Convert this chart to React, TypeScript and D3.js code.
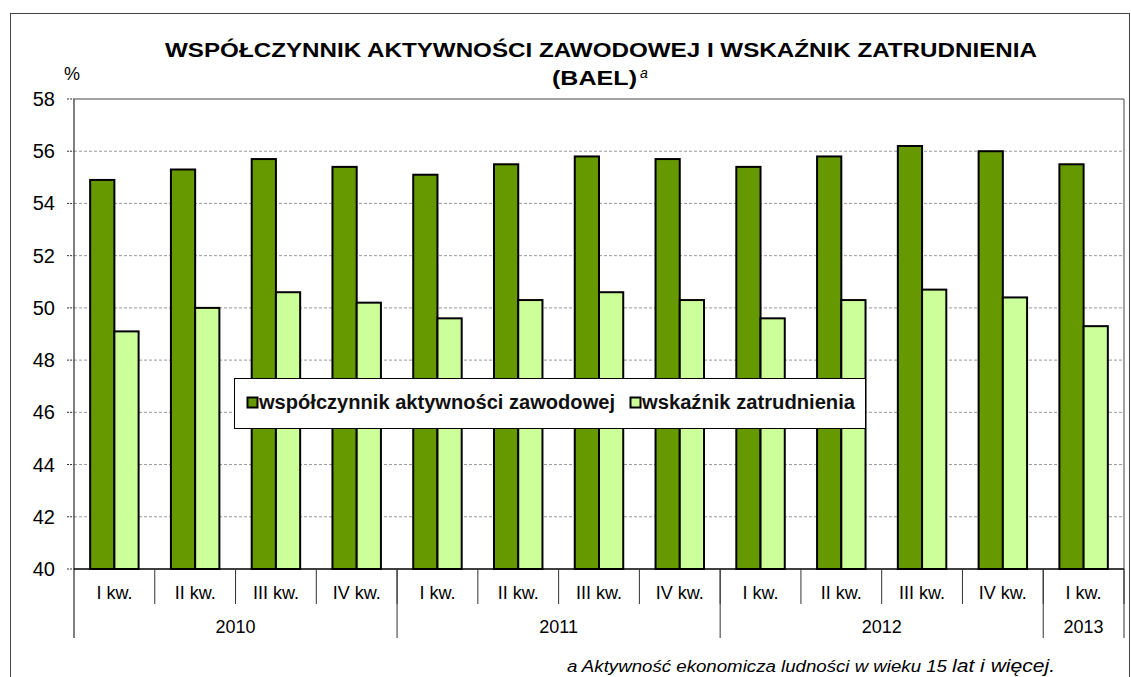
import * as d3 from "d3"

const quarters = ["I kw.", "II kw.", "III kw.", "IV kw.", "I kw.", "II kw.", "III kw.", "IV kw.", "I kw.", "II kw.", "III kw.", "IV kw.", "I kw."]
const years = [
    { label: "2010", from: 0, to: 4 },
    { label: "2011", from: 4, to: 8 },
    { label: "2012", from: 8, to: 12 },
    { label: "2013", from: 12, to: 13 },
]
const activity = [54.9, 55.3, 55.7, 55.4, 55.1, 55.5, 55.8, 55.7, 55.4, 55.8, 56.2, 56.0, 55.5]
const employment = [49.1, 50.0, 50.6, 50.2, 49.6, 50.3, 50.6, 50.3, 49.6, 50.3, 50.7, 50.4, 49.3]
const yTicks = [40, 42, 44, 46, 48, 50, 52, 54, 56, 58]

const W = 1131
const H = 677
const FONT = "Liberation Sans, Arial, sans-serif"
const DARK = "#669900"
const LIGHT = "#ccff99"

export default function App() {
    const left = 74, right = 1124, top = 99, bottom = 569
    const x = d3.scaleBand<number>().domain(d3.range(quarters.length)).range([left, right]).paddingInner(0.4).paddingOuter(0.2)
    const step = (right - left) / quarters.length
    const y = d3.scaleLinear().domain([40, 58]).range([bottom, top])
    const bw = x.bandwidth() / 2
    const edge = (i: number) => left + i * step

    return (
        <svg width={W} height={H} style={{ position: "absolute", left: 0, top: 0, fontFamily: FONT }}>
            <rect x={0} y={0} width={W} height={H} fill="#fff" />
            <rect x={10.5} y={13.5} width={1119} height={700} fill="none" stroke="#444" strokeWidth={1} />

            {/* title */}
            <text x={165} y={57} fontSize={21} fontWeight="bold" fill="#000" textLength={872} lengthAdjust="spacingAndGlyphs">
                WSPÓŁCZYNNIK AKTYWNOŚCI ZAWODOWEJ I WSKAŹNIK ZATRUDNIENIA
            </text>
            <text x={552} y={85} fontSize={21} fontWeight="bold" fill="#000" textLength={85} lengthAdjust="spacingAndGlyphs">(BAEL)</text>
            <text x={640} y={78} fontSize={14} fontStyle="italic" fill="#000">a</text>
            <text x={72} y={80} textAnchor="middle" fontSize={18}>%</text>

            {/* gridlines + y ticks */}
            {yTicks.map((t) => (
                <g key={t}>
                    {t > 40 && t < 58 && <line x1={left} x2={right} y1={y(t)} y2={y(t)} stroke="#999" strokeDasharray="3,2" />}
                    <line x1={left - 7} x2={left} y1={y(t)} y2={y(t)} stroke="#333" strokeDasharray="2,1" />
                    <text x={55} y={y(t) + 7} textAnchor="end" fontSize={20}>{t}</text>
                </g>
            ))}
            <line x1={right} x2={right} y1={top} y2={bottom} stroke="#444" />
            <line x1={left} x2={right} y1={top} y2={top} stroke="#444" />

            {/* bars */}
            {activity.map((v, i) => (
                <rect key={"a" + i} x={x(i)!} y={y(v)} width={bw} height={y(40) - y(v)} fill={DARK} stroke="#000" strokeWidth={2} />
            ))}
            {employment.map((v, i) => (
                <rect key={"e" + i} x={x(i)! + bw} y={y(v)} width={bw} height={y(40) - y(v)} fill={LIGHT} stroke="#000" strokeWidth={2} />
            ))}

            <line x1={left} x2={left} y1={top} y2={638} stroke="#555" strokeWidth={1.5} />
            <line x1={left} x2={right} y1={bottom} y2={bottom} stroke="#000" strokeWidth={1.5} />

            {/* quarter labels */}
            {quarters.map((q, i) => (
                <g key={"q" + i}>
                    <line x1={edge(i + 1)} x2={edge(i + 1)} y1={bottom} y2={604} stroke="#333" />
                    <text x={edge(i) + step / 2} y={599} textAnchor="middle" fontSize={18}>{q}</text>
                </g>
            ))}
            {years.map((yr) => (
                <g key={yr.label}>
                    <line x1={edge(yr.to)} x2={edge(yr.to)} y1={bottom} y2={638} stroke="#333" />
                    <text x={(edge(yr.from) + edge(yr.to)) / 2} y={633} textAnchor="middle" fontSize={18}>{yr.label}</text>
                </g>
            ))}

            {/* legend */}
            <rect x={234.5} y={378.5} width={631} height={50} fill="#fff" stroke="#000" />
            <rect x={247.5} y={397.5} width={10} height={10} fill={DARK} stroke="#000" strokeWidth={2} />
            <text x={259} y={409} fontSize={20} fontWeight="bold" fill="#111" textLength={356} lengthAdjust="spacingAndGlyphs">współczynnik aktywności zawodowej</text>
            <rect x={630.5} y={397.5} width={10} height={10} fill={LIGHT} stroke="#000" strokeWidth={2} />
            <text x={642} y={409} fontSize={20} fontWeight="bold" fill="#111" textLength={213} lengthAdjust="spacingAndGlyphs">wskaźnik zatrudnienia</text>

            {/* footnote */}
            <text x={567} y={672} fontSize={16} fontStyle="italic" textLength={380} lengthAdjust="spacingAndGlyphs">
                a Aktywność ekonomicza ludności w wieku 15
            </text>
            <text x={952} y={672} fontSize={19} fontStyle="italic" textLength={103} lengthAdjust="spacingAndGlyphs">lat i więcej.</text>
        </svg>
    )
}
